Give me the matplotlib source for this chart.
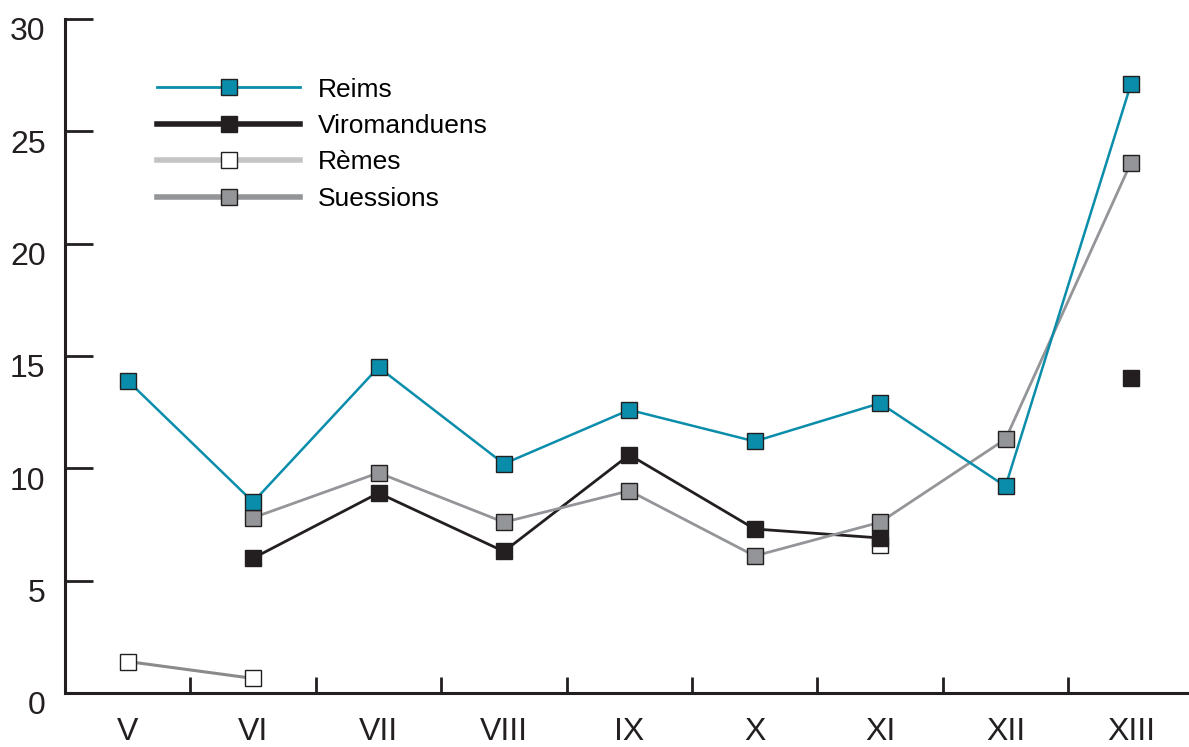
#!/usr/bin/env python3
"""Counts by century for Reims, Viromanduens, Remes and Suessions."""

import numpy as np
import matplotlib
matplotlib.use("Agg")
import matplotlib.pyplot as plt
import matplotlib.transforms as mtransforms
from matplotlib.lines import Line2D

plt.rcParams["font.family"] = ["Liberation Sans", "DejaVu Sans"]

# Data (NaN = no value)
centuries = ["V", "VI", "VII", "VIII", "IX", "X", "XI", "XII", "XIII"]
reims = [13.9, 8.5, 14.5, 10.2, 12.6, 11.2, 12.9, 9.2, 27.1]
viromanduens = [np.nan, 6.0, 8.9, 6.3, 10.6, 7.3, 6.9, np.nan, 14.0]
remes = [1.4, 0.65, np.nan, np.nan, np.nan, np.nan, 6.6, np.nan, np.nan]
suessions = [np.nan, 7.8, 9.8, 7.6, 9.0, 6.1, 7.6, 11.3, 23.6]

TEAL = "#0a8dab"
DARK = "#231f20"
GREY = "#939598"
LIGHT = "#c4c4c4"

fig = plt.figure(figsize=(11.89, 7.47), dpi=100)
ax = fig.add_axes([0.0547, 0.0723, 0.9492, 0.9023])
x = np.arange(len(centuries))

mk = dict(marker="s", markersize=12, markeredgecolor=DARK, markeredgewidth=1.0)
ax.plot(x, remes, color="#8a8a8a", lw=2.2, markerfacecolor="white", zorder=3, **mk)
ax.plot(x, viromanduens, color=DARK, lw=2.0, markerfacecolor=DARK, zorder=4, **mk)
ax.plot(x, suessions, color=GREY, lw=2.0, markerfacecolor=GREY, zorder=5, **mk)
ax.plot(x, reims, color=TEAL, lw=1.8, markerfacecolor=TEAL, zorder=6, **mk)

ax.set_xlim(-0.5, 8.5)
ax.set_ylim(0, 30)
ax.set_yticks([0, 5, 10, 15, 20, 25, 30])
ax.set_xticks(x)
ax.set_xticklabels(centuries)
ax.set_xticks(np.arange(0.5, 8.5, 1), minor=True)
ax.tick_params(axis="x", which="major", length=0, pad=17, labelsize=23, colors=DARK)
ax.tick_params(axis="x", which="minor", direction="in", length=11.5, width=2, color=DARK)
ax.tick_params(axis="y", direction="in", length=20, width=2, pad=14, labelsize=23,
               color=DARK, labelcolor=DARK)
# y labels sit a little below their ticks in the original
shift = mtransforms.ScaledTranslation(0, -7.2 / 72, fig.dpi_scale_trans)
for lab in ax.get_yticklabels():
    lab.set_transform(lab.get_transform() + shift)
for side in ("top", "right"):
    ax.spines[side].set_visible(False)
for side in ("left", "bottom"):
    ax.spines[side].set_linewidth(2.2)
    ax.spines[side].set_color(DARK)

handles = [
    Line2D([], [], color=TEAL, lw=2, markerfacecolor=TEAL, **mk),
    Line2D([], [], color=DARK, lw=4, markerfacecolor=DARK, **mk),
    Line2D([], [], color=LIGHT, lw=4, markerfacecolor="white", **mk),
    Line2D([], [], color=GREY, lw=4, markerfacecolor=GREY, **mk),
]
ax.legend(handles, ["Reims", "Viromanduens", "Rèmes", "Suessions"],
          loc="upper left", bbox_to_anchor=(0.0815, 0.913), frameon=False,
          fontsize=19, handlelength=5.42, handletextpad=0.68, labelspacing=0.47,
          borderpad=0, borderaxespad=0)

fig.savefig("out.png", dpi=100)
